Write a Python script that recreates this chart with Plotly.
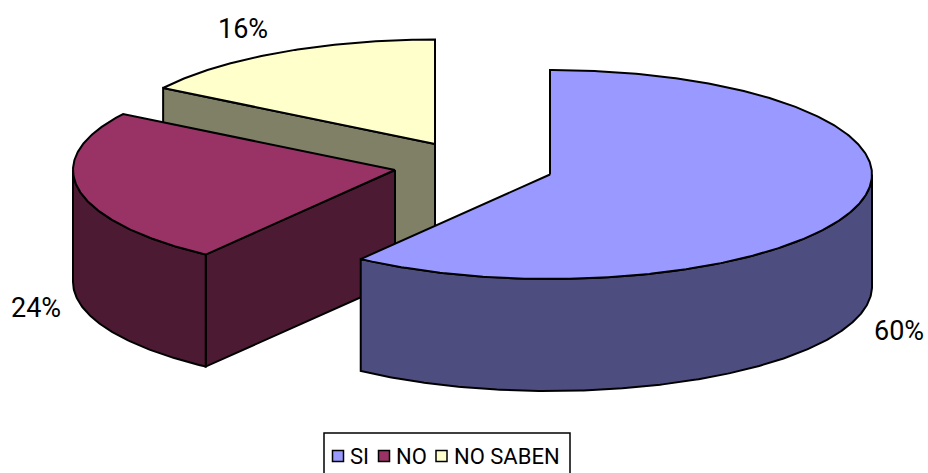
import math
import plotly.graph_objects as go

# Survey shares
categories = ["SI", "NO", "NO SABEN"]
values = [60, 24, 16]
top_colors = ["#9999FF", "#993366", "#FFFFCC"]
side_colors = ["#4D4D80", "#4D1A33", "#808066"]

# Exploded pie layout: apex of each slice, ellipse radii and extrusion depth
apexes = [(550, 174.5), (395, 170), (435, 144)]
RX, RY, DEPTH = 322, 104.5, 112
label_positions = [(899, 331), (36, 308), (243, 29)]
legend_swatch_x = [338, 384, 441.5]
legend_text_x = [350, 396, 454]
LEGEND_Y = 456


def point(apex, deg, drop=0):
    a = math.radians(deg)
    return apex[0] + RX * math.sin(a), apex[1] - RY * math.cos(a) + drop


def arc(apex, start, end, drop=0):
    n = max(2, int(abs(end - start)) * 2)
    return [point(apex, start + (end - start) * i / n, drop) for i in range(n + 1)]


def polygon(pts, color, name):
    return go.Scatter(
        x=[p[0] for p in pts] + [pts[0][0]],
        y=[p[1] for p in pts] + [pts[0][1]],
        mode="lines",
        fill="toself",
        fillcolor=color,
        line=dict(color="black", width=2),
        name=name,
        hoverinfo="name",
        showlegend=False,
    )


# Angular span of each slice, clockwise from twelve o'clock
spans = []
cursor = 0.0
for v in values:
    spans.append((cursor, cursor + v * 3.6))
    cursor += v * 3.6

fig = go.Figure()

# Painted back to front: NO SABEN, NO, SI
for i in (2, 1, 0):
    start, end = spans[i]
    apex = apexes[i]
    name = categories[i]
    # Cut face that looks towards the viewer
    if i in (1, 2):
        fig.add_trace(polygon(
            [apex, point(apex, start), point(apex, start, DEPTH), (apex[0], apex[1] + DEPTH)],
            side_colors[i], name + " cara"))
    # Outer rim where it is on the near side of the ellipse
    rim_start, rim_end = max(start, 90), min(end, 270)
    if rim_start < rim_end:
        fig.add_trace(polygon(
            arc(apex, rim_start, rim_end) + arc(apex, rim_end, rim_start, DEPTH),
            side_colors[i], name + " borde"))
    # Top surface
    fig.add_trace(polygon([apex] + arc(apex, start, end), top_colors[i], name))

# Percentage labels
for v, (x, y) in zip(values, label_positions):
    fig.add_annotation(x=x, y=y, text=f"{v}%", showarrow=False,
                       font=dict(family="Roboto", size=27, color="black"),
                       xanchor="center", yanchor="middle")

# Legend strip along the bottom edge
fig.add_shape(type="rect", x0=324, x1=570, y0=433, y1=490,
              line=dict(color="black", width=1.5), fillcolor="white", layer="below")
fig.add_trace(go.Scatter(
    x=legend_swatch_x, y=[LEGEND_Y] * 3, mode="markers",
    marker=dict(symbol="square", size=11, color=top_colors,
                line=dict(color="black", width=1.5)),
    text=categories, hoverinfo="text", showlegend=False))
for name, x in zip(categories, legend_text_x):
    fig.add_annotation(x=x, y=LEGEND_Y, text=name, showarrow=False,
                       font=dict(family="Roboto", size=22, color="black"),
                       xanchor="left", yanchor="middle", xshift=-2)

fig.update_layout(
    width=928, height=473,
    margin=dict(l=0, r=0, t=0, b=0),
    paper_bgcolor="white", plot_bgcolor="white",
    showlegend=False,
    xaxis=dict(range=[0, 928], visible=False, fixedrange=True),
    yaxis=dict(range=[473, 0], visible=False, fixedrange=True),
)

fig.write_html("out.html", config={"displayModeBar": False})
